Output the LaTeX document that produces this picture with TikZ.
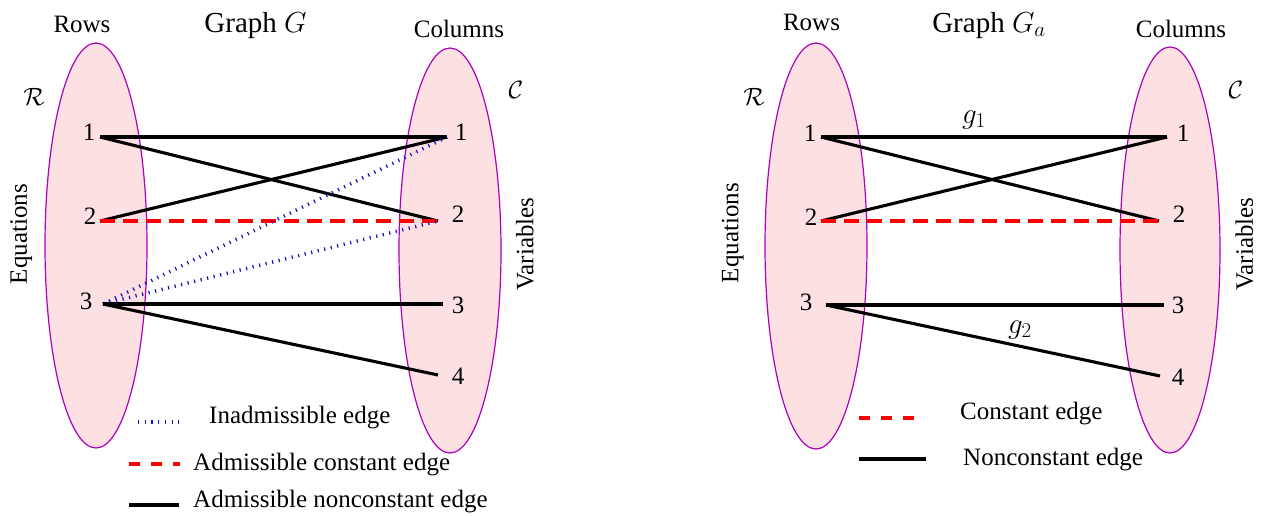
\documentclass[tikz,border=0pt]{standalone}
\usepackage{fix-cm}
\usepackage{fontspec}
\setmainfont{Liberation Serif}
\DeclareMathSizes{25}{25}{18}{14}
\DeclareMathSizes{29}{29}{21}{16}
\usetikzlibrary{shapes.geometric}
\definecolor{pinkfill}{RGB}{253,224,226}
\definecolor{edgemag}{RGB}{175,0,185}
\definecolor{inadblue}{RGB}{20,20,190}
\begin{document}
\begin{tikzpicture}[x=1pt,y=-1pt,
  setshape/.style={ellipse, draw=edgemag, line width=1.2pt, fill=pinkfill, inner sep=0pt},
  lbl/.style={font=\fontsize{25}{30}\selectfont, inner sep=0pt},
  ttl/.style={font=\fontsize{29}{34}\selectfont, inner sep=0pt},
  solidedge/.style={line width=3.1pt, black},
  constedge/.style={line width=3.1pt, red, dash pattern=on 15pt off 8pt},
  legconst/.style={line width=3.1pt, red, dash pattern=on 10.5pt off 11.5pt},
  inadm/.style={line width=3.5pt, inadblue, dash pattern=on 1.2pt off 5.5pt},
]
\useasboundingbox (0,0) rectangle (1264,515);

% ---------------- Left panel: Graph G ----------------
\node[setshape, minimum width=102pt, minimum height=405pt] (rowsetA) at (96,245.5) {};
\node[setshape, minimum width=102pt, minimum height=405pt] (colsetA) at (450,250.5) {};

\node[lbl, anchor=base] (rowsA) at (82,32) {Rows};
\node[ttl, anchor=base] (titleA) at (255.5,32) {Graph $G$};
\node[lbl, anchor=base] (colsA) at (459,37) {Columns};
\node[lbl] (calRA) at (34,97) {$\mathcal{R}$};
\node[lbl] (calCA) at (516,90) {$\mathcal{C}$};
\node[lbl, rotate=90, anchor=mid] (eqA) at (24.5,234) {Equations};
\node[lbl, rotate=90, anchor=mid] (varA) at (531,244) {Variables};

\node[lbl] (ar1) at (89,132) {1};
\node[lbl] (ar2) at (90,216) {2};
\node[lbl] (ar3) at (86,301) {3};
\node[lbl] (ac1) at (461,132) {1};
\node[lbl] (ac2) at (458,214) {2};
\node[lbl] (ac3) at (458,305) {3};
\node[lbl] (ac4) at (458,376) {4};

\coordinate (aL1) at (100,137);
\coordinate (aL2) at (100,221);
\coordinate (aL3) at (103,304);
\coordinate (aR1) at (447,137);
\coordinate (aR2) at (438,221);
\coordinate (aR3) at (443,304);
\coordinate (aR4) at (438,375);

\draw[solidedge] (aL1) -- (aR1);
\draw[solidedge] (aL1) -- (aR2);
\draw[solidedge] (aL2) -- (aR1);
\draw[constedge] (aL2) -- (aR2);
\draw[inadm] (aL3) -- (aR1);
\draw[inadm] (aL3) -- (aR2);
\draw[solidedge] (aL3) -- (aR3);
\draw[solidedge] (aL3) -- (aR4);

% legend left
\coordinate (lgA1s) at (138,422); \coordinate (lgA1e) at (183,422);
\coordinate (lgA2s) at (129,464); \coordinate (lgA2e) at (180,464);
\coordinate (lgA3s) at (129,505); \coordinate (lgA3e) at (179,505);
\draw[inadm] (lgA1s) -- (lgA1e);
\draw[legconst] (lgA2s) -- (lgA2e);
\draw[solidedge] (lgA3s) -- (lgA3e);
\node[lbl, anchor=west] (lgA1t) at (209,418) {Inadmissible edge};
\node[lbl, anchor=west] (lgA2t) at (193,465) {Admissible constant edge};
\node[lbl, anchor=west] (lgA3t) at (193,502) {Admissible nonconstant edge};

% ---------------- Right panel: Graph G_a ----------------
\node[setshape, minimum width=102pt, minimum height=406pt] (rowsetB) at (816,246) {};
\node[setshape, minimum width=100pt, minimum height=406pt] (colsetB) at (1170,250) {};

\node[lbl, anchor=base] (rowsB) at (811.5,30) {Rows};
\node[ttl, anchor=base] (titleB) at (989,32) {Graph $G_a$};
\node[lbl, anchor=base] (colsB) at (1181,37) {Columns};
\node[lbl] (calRB) at (754,97) {$\mathcal{R}$};
\node[lbl] (calCB) at (1236,90) {$\mathcal{C}$};
\node[lbl, rotate=90, anchor=mid] (eqB) at (736,233) {Equations};
\node[lbl, rotate=90, anchor=mid] (varB) at (1250.5,244) {Variables};

\node[lbl] (br1) at (810,133) {1};
\node[lbl] (br2) at (811,217) {2};
\node[lbl] (br3) at (806,302) {3};
\node[lbl] (bc1) at (1183,133) {1};
\node[lbl] (bc2) at (1179,214) {2};
\node[lbl] (bc3) at (1178,305) {3};
\node[lbl] (bc4) at (1178,377) {4};

\coordinate (bL1) at (821,137);
\coordinate (bL2) at (821,221);
\coordinate (bL3) at (826,305);
\coordinate (bR1) at (1167,137);
\coordinate (bR2) at (1159,221);
\coordinate (bR3) at (1164,305);
\coordinate (bR4) at (1160,376);

\draw[solidedge] (bL1) -- (bR1);
\draw[solidedge] (bL1) -- (bR2);
\draw[solidedge] (bL2) -- (bR1);
\draw[constedge] (bL2) -- (bR2);
\draw[solidedge] (bL3) -- (bR3);
\draw[solidedge] (bL3) -- (bR4);

\node[ttl, anchor=base] (g1) at (974,123) {$g_1$};
\node[ttl, anchor=base] (g2) at (1020,333) {$g_2$};

% legend right
\coordinate (lgB1s) at (859,418); \coordinate (lgB1e) at (914,418);
\coordinate (lgB2s) at (859,459); \coordinate (lgB2e) at (926,459);
\draw[legconst] (lgB1s) -- (lgB1e);
\draw[solidedge] (lgB2s) -- (lgB2e);
\node[lbl, anchor=west] (lgB1t) at (960,414) {Constant edge};
\node[lbl, anchor=west] (lgB2t) at (963,460) {Nonconstant edge};
\end{tikzpicture}
\end{document}
